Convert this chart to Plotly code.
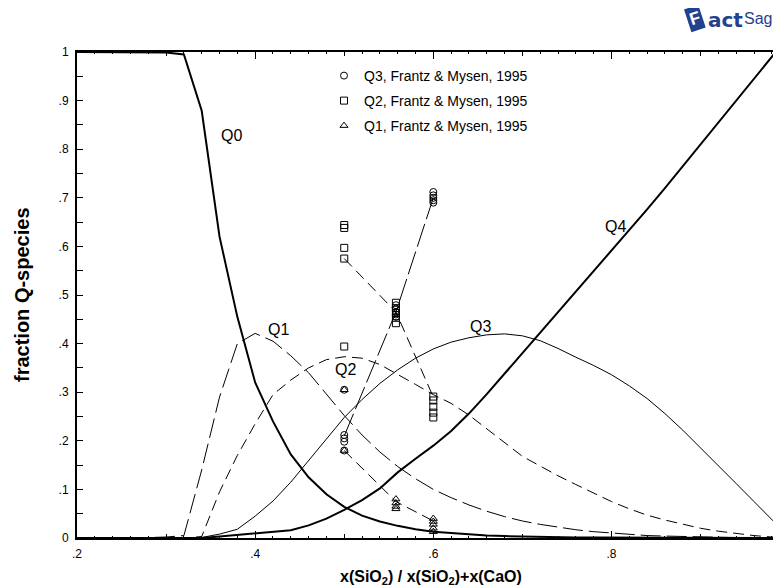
import plotly.graph_objects as go

# ---------------- data ----------------
x_grid = [0.20, 0.22, 0.24, 0.26, 0.28, 0.30, 0.32, 0.34, 0.36, 0.38,
          0.40, 0.42, 0.44, 0.46, 0.48, 0.50, 0.52, 0.54, 0.56, 0.58,
          0.60, 0.62, 0.64, 0.66, 0.68, 0.70, 0.72, 0.74, 0.76, 0.78,
          0.80, 0.82, 0.84, 0.86, 0.88, 0.90, 0.92, 0.94, 0.96, 0.98, 1.00]

q0 = [1.0, 1.0, 1.0, 1.0, 1.0, 0.999, 0.995, 0.879, 0.62, 0.455,
      0.32, 0.24, 0.172, 0.125, 0.09, 0.064, 0.046, 0.034, 0.025, 0.018,
      0.013, 0.010, 0.007, 0.005, 0.004, 0.003, 0.002, 0.002, 0.001, 0.001,
      0.001, 0.0, 0.0, 0.0, 0.0, 0.0, 0.0, 0.0, 0.0, 0.0, 0.0]

q1 = [0.0, 0.0, 0.0, 0.0, 0.001, 0.002, 0.005, 0.14, 0.29, 0.40,
      0.421, 0.405, 0.375, 0.34, 0.296, 0.252, 0.212, 0.177, 0.147, 0.122,
      0.100, 0.083, 0.068, 0.055, 0.044, 0.035, 0.028, 0.022, 0.017, 0.013,
      0.010, 0.007, 0.005, 0.004, 0.003, 0.002, 0.001, 0.001, 0.0, 0.0, 0.0]

q2 = [0.0, 0.0, 0.0, 0.0, 0.0, 0.0, 0.0, 0.003, 0.095, 0.17,
      0.235, 0.295, 0.325, 0.35, 0.367, 0.373, 0.37, 0.357, 0.337, 0.316,
      0.295, 0.277, 0.253, 0.225, 0.196, 0.168, 0.148, 0.128, 0.11, 0.092,
      0.075, 0.06, 0.047, 0.037, 0.028, 0.02, 0.014, 0.009, 0.005, 0.002, 0.0]

q3 = [0.0, 0.0, 0.0, 0.0, 0.0, 0.0, 0.0, 0.001, 0.008, 0.018,
      0.045, 0.076, 0.115, 0.16, 0.205, 0.248, 0.285, 0.318, 0.346, 0.37,
      0.389, 0.403, 0.412, 0.418, 0.42, 0.416, 0.406, 0.39, 0.372, 0.355,
      0.336, 0.313, 0.287, 0.256, 0.222, 0.186, 0.149, 0.112, 0.075, 0.038, 0.001]

q4 = [0.0, 0.0, 0.0, 0.0, 0.0, 0.0, 0.0, 0.0, 0.003, 0.006,
      0.010, 0.013, 0.016, 0.026, 0.04, 0.058, 0.078, 0.102, 0.135, 0.163,
      0.19, 0.22, 0.256, 0.296, 0.338, 0.38, 0.422, 0.464, 0.506, 0.548,
      0.59, 0.632, 0.676, 0.72, 0.765, 0.81, 0.855, 0.90, 0.945, 0.99, 1.035]

# Frantz & Mysen, 1995 measurements
q3_exp_x = [0.5] * 5 + [0.558] * 5 + [0.6] * 5
q3_exp_y = [0.305, 0.212, 0.205, 0.198, 0.18,
            0.479, 0.472, 0.465, 0.46, 0.455,
            0.712, 0.705, 0.70, 0.695, 0.69]
q2_exp_x = [0.5] * 5 + [0.558] * 5 + [0.6] * 5
q2_exp_y = [0.644, 0.638, 0.597, 0.575, 0.394,
            0.484, 0.473, 0.463, 0.453, 0.442,
            0.291, 0.283, 0.27, 0.258, 0.248]
q1_exp_x = [0.5] * 2 + [0.558] * 4 + [0.6] * 5
q1_exp_y = [0.305, 0.18,
            0.08, 0.072, 0.065, 0.06,
            0.04, 0.034, 0.028, 0.02, 0.013]

trend_x = [0.5, 0.558, 0.6]
q3_trend = [0.21, 0.465, 0.70]
q2_trend = [0.575, 0.465, 0.29]
q1_trend = [0.18, 0.075, 0.035]

curve_labels = ["Q0", "Q1", "Q2", "Q3", "Q4"]
label_x = [0.373, 0.426, 0.501, 0.653, 0.804]
label_y = [0.829, 0.428, 0.346, 0.436, 0.640]

x_tick_vals = [0.2, 0.4, 0.6, 0.8]
x_tick_text = [".2", ".4", ".6", ".8"]
y_tick_vals = [0, 0.1, 0.2, 0.3, 0.4, 0.5, 0.6, 0.7, 0.8, 0.9, 1.0]
y_tick_text = ["0", ".1", ".2", ".3", ".4", ".5", ".6", ".7", ".8", ".9", "1"]

# ---------------- figure ----------------
OFF = 8                      # page offset of the plot div (body margin)
W, H = 781 - OFF, 586 - OFF
ML, MR, MT, MB = 69, 0, 44, 48
PW, PH = W - ML - MR, H - MT - MB
FONT = "Liberation Sans, Arial, sans-serif"
NAVY = "#22418e"


def px2paper(px, py):
    """page pixel -> paper coords"""
    return (px - OFF - ML) / PW, (H - MB - (py - OFF)) / PH


fig = go.Figure()

line_specs = [
    (q0, 2.0, "solid"),
    (q1, 1.0, "20px,6px"),
    (q2, 1.0, "11px,6px"),
    (q3, 1.0, "solid"),
    (q4, 2.0, "solid"),
]
for ys, w, d in line_specs:
    fig.add_trace(go.Scatter(x=x_grid, y=ys, mode="lines",
                             line=dict(color="black", width=w, dash=d),
                             showlegend=False, hoverinfo="skip"))

for ys, d in [(q3_trend, "24px,5px"), (q2_trend, "11px,6px"), (q1_trend, "11px,6px")]:
    fig.add_trace(go.Scatter(x=trend_x, y=ys, mode="lines",
                             line=dict(color="black", width=1, dash=d),
                             showlegend=False, hoverinfo="skip"))

exp_specs = [
    (q3_exp_x, q3_exp_y, "circle-open", "Q3, Frantz & Mysen, 1995", "legend"),
    (q2_exp_x, q2_exp_y, "square-open", "Q2, Frantz & Mysen, 1995", "legend2"),
    (q1_exp_x, q1_exp_y, "triangle-up-open", "Q1, Frantz & Mysen, 1995", "legend3"),
]
for xs, ys, sym, name, lg in exp_specs:
    fig.add_trace(go.Scatter(x=xs, y=ys, mode="markers", name=name,
                             marker=dict(symbol=sym, size=7, color="black",
                                         line=dict(color="black", width=1)),
                             legend=lg))

# overlay axis carrying the small 0.02 ticks
fig.add_trace(go.Scatter(x=[0.2], y=[0], xaxis="x2", mode="markers",
                         marker=dict(opacity=0), showlegend=False, hoverinfo="skip"))

for t, lx, ly in zip(curve_labels, label_x, label_y):
    fig.add_annotation(x=lx, y=ly, xref="x", yref="y", text=t, showarrow=False,
                       xanchor="center", yanchor="middle",
                       font=dict(family=FONT, size=16, color="black"))

# axis titles
tx, ty = px2paper(431, 577)
fig.add_annotation(x=tx, y=ty, xref="paper", yref="paper", xanchor="center", yanchor="middle",
                   text="<b>x(SiO<sub>2</sub>) / x(SiO<sub>2</sub>)+x(CaO)</b>",
                   showarrow=False, font=dict(family=FONT, size=16, color="black"))
yx, yy = px2paper(22, 295)
fig.add_annotation(x=yx, y=yy, xref="paper", yref="paper", xanchor="center", yanchor="middle",
                   text="<b>fraction Q-species</b>", textangle=-90,
                   showarrow=False, font=dict(family=FONT, size=20, color="black"))

# FactSage logo
fx, fy = px2paper(695, 19)
fig.add_annotation(x=fx, y=fy, xref="paper", yref="paper", xanchor="center", yanchor="middle",
                   text="<b>F</b>", showarrow=False, textangle=-18,
                   bgcolor=NAVY, borderpad=2,
                   font=dict(family=FONT, size=17, color="white"))
ax_, ay_ = px2paper(706, 20)
fig.add_annotation(x=ax_, y=ay_, xref="paper", yref="paper", xanchor="left", yanchor="middle",
                   text="<b>act</b>", showarrow=False,
                   font=dict(family="DejaVu Sans", size=20, color=NAVY))
sx_, sy_ = px2paper(742, 19)
fig.add_annotation(x=sx_, y=sy_, xref="paper", yref="paper", xanchor="left", yanchor="middle",
                   text="Sage", showarrow=False,
                   font=dict(family=FONT, size=16, color=NAVY))

lgx = px2paper(324, 0)[0]
legend_common = dict(x=lgx, xanchor="left", yanchor="middle",
                     bgcolor="rgba(0,0,0,0)", borderwidth=0,
                     font=dict(family=FONT, size=14, color="black"))
ly1 = px2paper(0, 76)[1]
ly2 = px2paper(0, 101)[1]
ly3 = px2paper(0, 126)[1]

fig.update_layout(
    width=W, height=H,
    margin=dict(l=ML, r=MR, t=MT, b=MB, pad=0),
    plot_bgcolor="white", paper_bgcolor="white",
    font=dict(family=FONT, size=12, color="black"),
    legend=dict(y=ly1, **legend_common),
    legend2=dict(y=ly2, **legend_common),
    legend3=dict(y=ly3, **legend_common),
    xaxis=dict(range=[0.2, 0.2 + PW / 890.8], tickvals=x_tick_vals, ticktext=x_tick_text,
               ticks="inside", ticklen=7, tickwidth=1, tickcolor="black",
               minor=dict(tickvals=[0.3, 0.5, 0.7, 0.9], ticks="inside", ticklen=4,
                          tickcolor="black", tickwidth=1),
               showline=True, linecolor="black", linewidth=2, mirror="ticks",
               showgrid=False, zeroline=False, ticklabelstandoff=4,
               tickfont=dict(family=FONT, size=12, color="black")),
    xaxis2=dict(overlaying="x", matches="x", anchor="y", side="bottom",
                dtick=0.02, tick0=0.2, ticks="inside", ticklen=2, tickwidth=1,
                tickcolor="black", showticklabels=False, showgrid=False,
                zeroline=False, showline=False, mirror="ticks"),
    yaxis=dict(range=[0, 1], tickvals=y_tick_vals, ticktext=y_tick_text,
               ticks="inside", ticklen=6, tickwidth=1, tickcolor="black",
               minor=dict(dtick=0.05, ticks="inside", ticklen=6, tickcolor="black", tickwidth=1),
               showline=True, linecolor="black", linewidth=2, mirror=False,
               showgrid=False, zeroline=False, ticklabelstandoff=4,
               tickfont=dict(family=FONT, size=12, color="black")),
)

fig.write_html("out.html")
